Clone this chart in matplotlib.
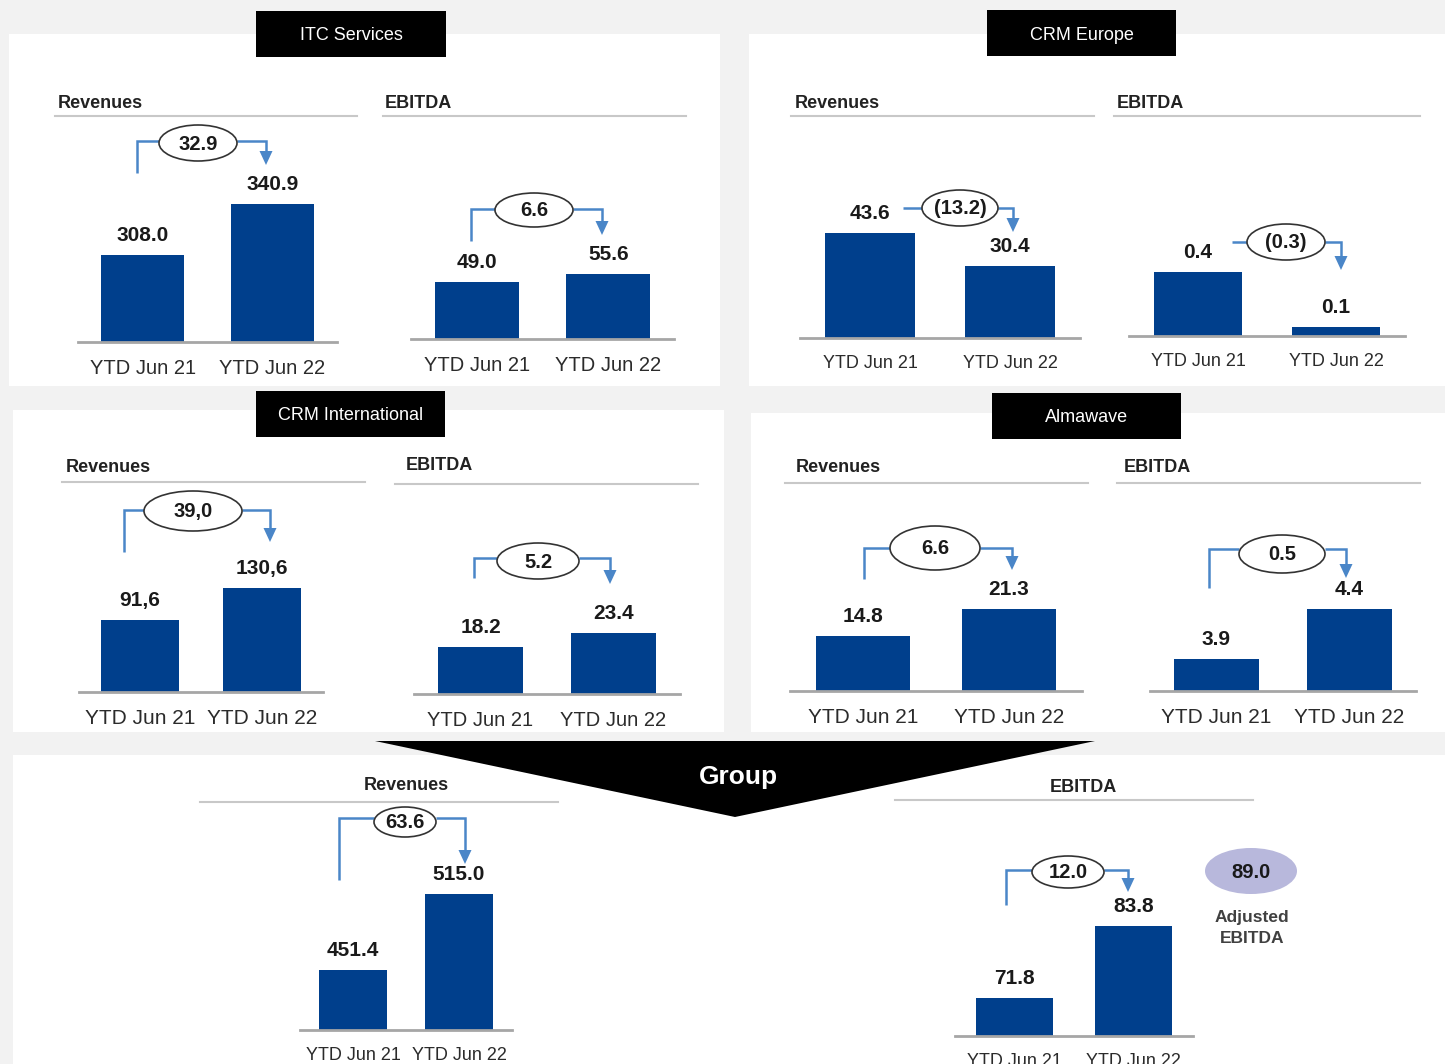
import matplotlib.pyplot as plt
from matplotlib.patches import Rectangle, Ellipse, Polygon

plt.rcParams['font.family'] = ['Liberation Sans', 'DejaVu Sans']

# 数据
periods = ['YTD Jun 21', 'YTD Jun 22']
itc_rev = [308.0, 340.9]
itc_ebitda = [49.0, 55.6]
eu_rev = [43.6, 30.4]
eu_ebitda = [0.4, 0.1]
intl_rev = [91.6, 130.6]
intl_ebitda = [18.2, 23.4]
alma_rev = [14.8, 21.3]
alma_ebitda = [3.9, 4.4]
group_rev = [451.4, 515.0]
group_ebitda = [71.8, 83.8]
deltas = [32.9, 6.6, -13.2, -0.3, 39.0, 5.2, 6.6, 0.5, 63.6, 12.0]
adj_ebitda = 89.0

BAR = '#003f8c'
ARROW = '#4a86c8'
W, H = 1445, 1064


def fmt(v, comma=False):
    s = f'{abs(v):.1f}'
    if comma:
        s = s.replace('.', ',')
    return f'({s})' if v < 0 else s


fig = plt.figure(figsize=(W / 100, H / 100), dpi=100)
fig.patch.set_facecolor('#f2f2f2')
bg = fig.add_axes([0, 0, 1, 1])
bg.set_xlim(0, W)
bg.set_ylim(H, 0)
bg.axis('off')


def rect(x0, y0, x1, y1, color):
    bg.add_patch(Rectangle((x0, y0), x1 - x0, y1 - y0, facecolor=color, edgecolor='none'))


# 白色面板
for p in [(9, 34, 720, 386), (749, 34, 1445, 386), (13, 410, 724, 732),
          (751, 413, 1445, 732), (13, 755, 1445, 1064)]:
    rect(*p, 'white')

# 标题黑框
for (x0, y0, x1, y1), name in zip([(256, 11, 446, 57), (987, 10, 1176, 56),
                                   (256, 391, 445, 437), (992, 393, 1181, 439)],
                                  ['ITC Services', 'CRM Europe', 'CRM International', 'Almawave']):
    rect(x0, y0, x1, y1, 'black')
    bg.text((x0 + x1) / 2, (y0 + y1) / 2 + 2, name, color='white', fontsize=13,
            ha='center', va='center')

# Group 三角形
bg.add_patch(Polygon([(375, 741), (1095, 741), (735, 817)], facecolor='black', edgecolor='none'))
bg.text(738, 777, 'Group', color='white', fontsize=19, fontweight='bold', ha='center', va='center')

# 小标题 + 下划线
headers = [('Revenues', 58, 101, 55, 357, 116, 'left'), ('EBITDA', 385, 101, 383, 686, 116, 'left'),
           ('Revenues', 795, 101, 791, 1094, 116, 'left'), ('EBITDA', 1117, 101, 1114, 1420, 116, 'left'),
           ('Revenues', 66, 466, 62, 365, 482, 'left'), ('EBITDA', 406, 464, 395, 698, 484, 'left'),
           ('Revenues', 796, 466, 785, 1088, 483, 'left'), ('EBITDA', 1124, 466, 1117, 1420, 483, 'left'),
           ('Revenues', 406, 783, 200, 558, 802, 'center'), ('EBITDA', 1083, 785, 895, 1253, 800, 'center')]
for t, tx, ty, l0, l1, ly, ha in headers:
    bg.text(tx, ty + 2, t, fontsize=13, fontweight='bold', color='#222222', ha=ha, va='center')
    bg.plot([l0, l1], [ly, ly], color='#c8c8c8', lw=1.5)


def bracket(lx, ly, level, ex, ey, ew, eh, rx, tip, text):
    kw = dict(color=ARROW, lw=1.8, solid_joinstyle='miter', solid_capstyle='butt')
    if ly is None:
        bg.plot([lx, ex - ew / 2], [level, level], **kw)
    else:
        bg.plot([lx, lx, ex - ew / 2], [ly, level, level], **kw)
    bg.plot([ex + ew / 2, rx, rx], [level, level, tip - 11], **kw)
    bg.add_patch(Polygon([(rx - 6.5, tip - 14), (rx + 6.5, tip - 14), (rx, tip)],
                         facecolor=ARROW, edgecolor='none'))
    bg.add_patch(Ellipse((ex, ey), ew, eh, facecolor='white', edgecolor='#333333', lw=1.2, zorder=3))
    bg.text(ex, ey + 1, text, ha='center', va='center', fontweight='bold', fontsize=14.5,
            color='#1a1a1a', zorder=4)


# 每个小图：数据, 逗号, 基线(x0,x1,y,top), y范围, 刻度字号, 括号
charts = [
    (itc_rev, False, (78, 337, 342, 116), (251.9, 397.6), 14.5, (137, 173, 141, 198, 143, 78, 36, 266, 165)),
    (itc_ebitda, False, (411, 674, 339, 116), (2.0, 185.8), 14.5, (471, 241, 209, 534, 210, 78, 34, 602, 235)),
    (eu_rev, False, (800, 1080, 338, 116), (1.6, 90.4), 13, (903, None, 208, 960, 208, 76, 36, 1013, 232)),
    (eu_ebitda, False, (1129, 1405, 336, 116), (0.051, 1.251), 13, (1232, None, 242, 1286, 242, 78, 36, 1341, 270)),
    (intl_rev, True, (79, 323, 692, 482), (3.85, 259.8), 15, (124, 552, 510, 193, 511, 98, 40, 270, 542)),
    (intl_ebitda, False, (414, 680, 694, 484), (0.74, 78.8), 14.5, (474, 578, 558, 538, 561, 82, 36, 610, 584)),
    (alma_rev, False, (790, 1082, 691, 483), (1.56, 51.7), 15, (864, 579, 548, 935, 548, 90, 44, 1012, 570)),
    (alma_ebitda, False, (1150, 1416, 691, 483), (3.58, 5.66), 15, (1209, 588, 549, 1282, 554, 86, 38, 1346, 578)),
    (group_rev, False, (300, 512, 1030, 802), (401.2, 592.0), 13, (339, 880, 818, 405, 822, 62, 30, 465, 864)),
    (group_ebitda, False, (955, 1193, 1036, 800), (65.47, 104.8), 13, (1006, 905, 870, 1068, 872, 72, 32, 1128, 892)),
]

for (vals, comma, (x0, x1, base, top), ylim, tsize, br), d in zip(charts, deltas):
    ax = fig.add_axes([x0 / W, 1 - base / H, (x1 - x0) / W, (base - top) / H])
    ax.patch.set_alpha(0)
    ax.bar([0, 1], vals, width=0.64, color=BAR)
    ax.set_xlim(-0.5, 1.5)
    ax.set_ylim(*ylim)
    for s in ['top', 'left', 'right']:
        ax.spines[s].set_visible(False)
    ax.spines['bottom'].set_color('#a6a6a6')
    ax.spines['bottom'].set_linewidth(2)
    ax.set_yticks([])
    ax.set_xticks([0, 1], periods)
    ax.tick_params(axis='x', length=0, pad=12, labelsize=tsize, labelcolor='#2b2b2b')
    for i, v in enumerate(vals):
        ax.annotate(fmt(v, comma), (i, v), xytext=(0, 14), textcoords='offset points',
                    ha='center', va='center', fontsize=15, fontweight='bold', color='#1a1a1a')
    bracket(*br, fmt(d, comma))

# Adjusted EBITDA
bg.add_patch(Ellipse((1251, 871), 92, 46, facecolor='#b8b8dc', edgecolor='none'))
bg.text(1251, 872, fmt(adj_ebitda), ha='center', va='center', fontsize=14.5, fontweight='bold', color='#1a1a1a')
bg.text(1252, 928, 'Adjusted\nEBITDA', ha='center', va='center', fontsize=12.5, fontweight='bold',
        color='#404040', linespacing=1.45)

fig.savefig('out.png', dpi=100, facecolor=fig.get_facecolor())
